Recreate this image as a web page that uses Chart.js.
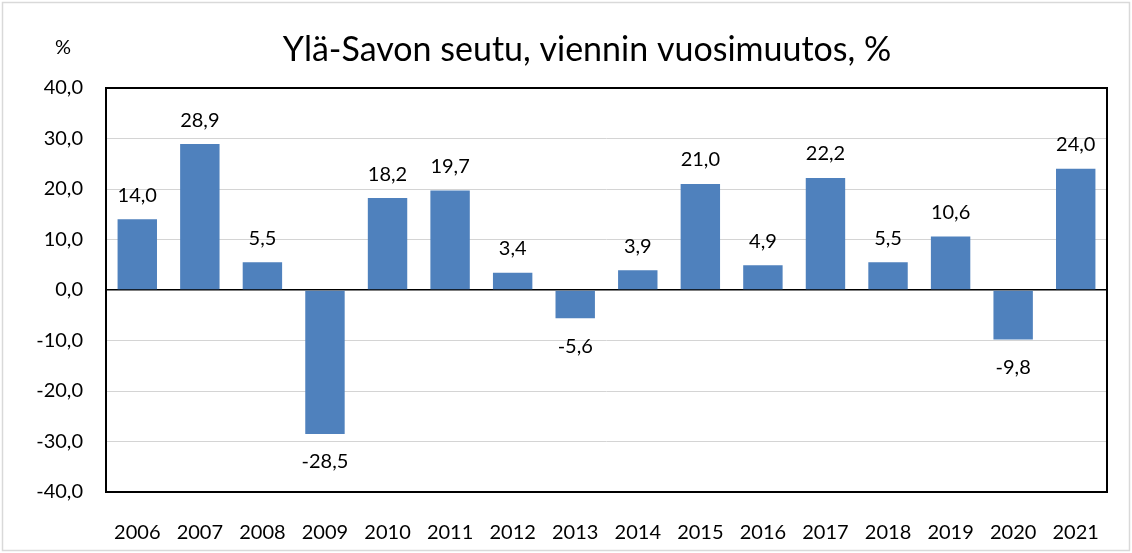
<!DOCTYPE html>
<html>
<head>
<meta charset="utf-8">
<script src="https://cdn.jsdelivr.net/npm/chart.js@4"></script>
<style>
  html, body { margin: 0; padding: 0; background: #fff; }
  #wrap { width: 1132px; height: 553px; position: relative; }
</style>
</head>
<body>
<div id="wrap"><canvas id="bars"></canvas></div>
<script>
// data
const years = ['2006', '2007', '2008', '2009', '2010', '2011', '2012', '2013',
	'2014', '2015', '2016', '2017', '2018', '2019', '2020', '2021'];
const changePct = [14.0, 28.9, 5.5, -28.5, 18.2, 19.7, 3.4, -5.6,
	3.9, 21.0, 4.9, 22.2, 5.5, 10.6, -9.8, 24.0];
const yMin = -40;
const yMax = 40;
const yStep = 10;

const chartTitle = 'Ylä-Savon seutu, viennin vuosimuutos, %';
const unitLabel = '%';

const FONT = 'Lato, "Open Sans", sans-serif';

function fi(v) {
	// finnish decimal comma
	return v.toFixed(1).replace('.', ',');
}

// frame, title, unit label, plot border and value labels
const decorations = {
	id: 'decorations',
	beforeDraw(chart) {
		const c = chart.ctx;
		c.save();
		c.fillStyle = '#fff';
		c.fillRect(0, 0, chart.width, chart.height);
		c.strokeStyle = '#d9d9d9';
		c.lineWidth = 1.5;
		c.strokeRect(2.5, 2.5, chart.width - 5, chart.height - 5);

		c.fillStyle = '#000';
		c.textAlign = 'center';
		c.textBaseline = 'middle';
		c.font = '34px ' + FONT;
		c.fillText(chartTitle, 587, 50);
		c.font = '20px ' + FONT;
		c.fillText(unitLabel, 63, 48);
		c.restore();
	},
	afterDatasetsDraw(chart) {
		const c = chart.ctx;
		const a = chart.chartArea;
		c.save();
		c.strokeStyle = '#000';
		c.lineWidth = 2;
		c.strokeRect(a.left, a.top, a.right - a.left, a.bottom - a.top);

		c.fillStyle = '#000';
		c.font = '20px ' + FONT;
		c.textAlign = 'center';
		c.textBaseline = 'middle';
		const meta = chart.getDatasetMeta(0);
		meta.data.forEach((bar, i) => {
			const v = changePct[i];
			const y = v >= 0 ? bar.y - 24 : bar.y + 28;
			c.fillText(fi(v), bar.x, y);
		});
		c.restore();
	}
};

new Chart(document.getElementById('bars'), {
	type: 'bar',
	data: {
		labels: years,
		datasets: [
			{
				data: changePct,
				backgroundColor: '#4f81bd',
				borderWidth: 0,
				categoryPercentage: 1,
				barPercentage: 0.63
			}
		]
	},
	options: {
		responsive: true,
		maintainAspectRatio: false,
		animation: false,
		layout: { padding: { left: 0, right: 25, top: 88, bottom: 0 } },
		plugins: {
			legend: { display: false },
			tooltip: { enabled: false },
			title: { display: false }
		},
		scales: {
			x: {
				grid: { display: false },
				border: { display: false },
				ticks: {
					color: '#000',
					font: { family: FONT, size: 20 },
					padding: 21,
					maxRotation: 0
				},
				afterFit(scale) { scale.height = 61; }
			},
			y: {
				min: yMin,
				max: yMax,
				border: { display: false },
				grid: {
					drawTicks: false,
					color: (ctx) => ctx.tick && ctx.tick.value === 0 ? '#000' : '#d4d4d4',
					lineWidth: (ctx) => ctx.tick && ctx.tick.value === 0 ? 1.5 : 1
				},
				ticks: {
					stepSize: yStep,
					color: '#000',
					font: { family: FONT, size: 20 },
					padding: 23,
					callback: (v) => fi(v)
				},
				afterFit(scale) { scale.width = 106; }
			}
		}
	},
	plugins: [decorations]
});
</script>
</body>
</html>
